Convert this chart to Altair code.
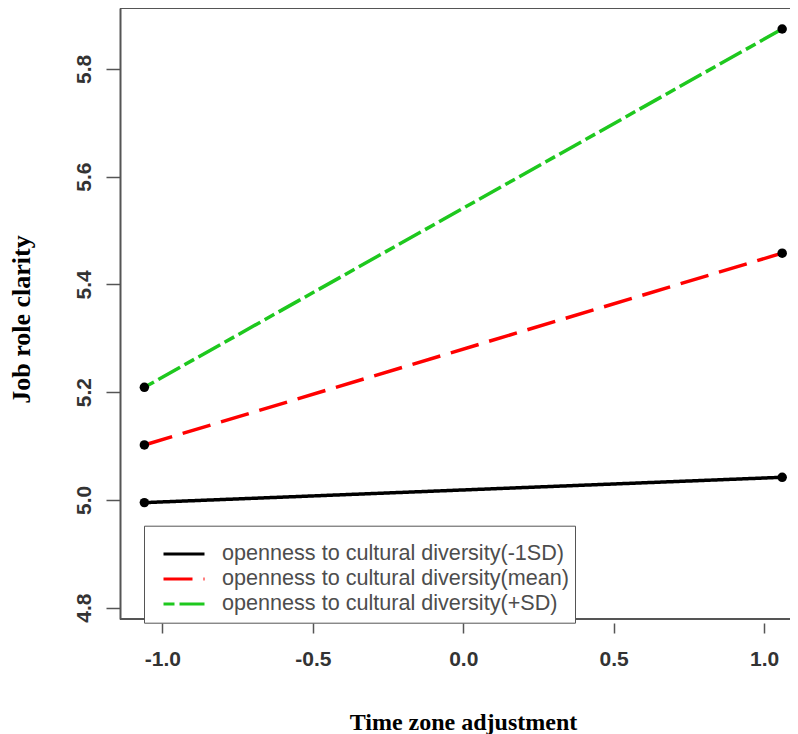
import altair as alt
import pandas as pd

series = [
    "openness to cultural diversity(-1SD)",
    "openness to cultural diversity(mean)",
    "openness to cultural diversity(+SD)",
]
x_vals = [-1.06, 1.06]
low_sd = [4.995, 5.042]
mean_vals = [5.102, 5.458]
high_sd = [5.209, 5.874]
colors = ["#000000", "#ff0000", "#1ec81e"]
dashes = [[1, 0], [29, 11], [11, 5, 25, 5]]
x_ticks = [-1.0, -0.5, 0.0, 0.5, 1.0]
y_ticks = [4.8, 5.0, 5.2, 5.4, 5.6, 5.8]
x_domain = [-1.141, 1.086]
y_domain = [4.779, 5.913]

rows = []
for s, vals in zip(series, [low_sd, mean_vals, high_sd]):
    for x, y in zip(x_vals, vals):
        rows.append({"series": s, "x": x, "y": y})
df = pd.DataFrame(rows)
border_df = pd.DataFrame({"y": y_domain})

xs = alt.Scale(domain=x_domain, nice=False, zero=False)
ys = alt.Scale(domain=y_domain, nice=False, zero=False)

x_axis = alt.Axis(
    values=x_ticks,
    title="Time zone adjustment",
    labelExpr="datum.value < 0 ? '-' + format(-datum.value, '.1f') : format(datum.value, '.1f')",
    domain=False,
    offset=4,
    tickSize=10,
    tickColor="#555555",
    tickWidth=1.5,
    labelPadding=15,
    labelFont="Liberation Sans",
    labelFontSize=21,
    labelFontWeight="bold",
    labelColor="#333333",
    grid=False,
    titleFont="Liberation Serif",
    titleFontSize=24,
    titleFontWeight="bold",
    titleColor="#000000",
    titleX=343,
    titleY=106,
    titleAlign="center",
    titleBaseline="alphabetic",
)
y_axis = alt.Axis(
    values=y_ticks,
    format=".1f",
    title="Job role clarity",
    domain=True,
    domainColor="#555555",
    domainWidth=2,
    tickSize=14,
    tickColor="#555555",
    tickWidth=1.5,
    labelAngle=270,
    labelAlign="center",
    labelBaseline="bottom",
    labelPadding=12,
    labelFont="Liberation Sans",
    labelFontSize=21,
    labelFontWeight="bold",
    labelColor="#333333",
    grid=False,
    titleFont="Liberation Serif",
    titleFontSize=26,
    titleFontWeight="bold",
    titleColor="#000000",
    titleAngle=270,
    titleX=-98.5,
    titleY=311,
    titleAlign="center",
    titleBaseline="middle",
)

x_enc = alt.X("x:Q", scale=xs, axis=x_axis)
y_enc = alt.Y("y:Q", scale=ys, axis=y_axis)

legend = alt.Legend(
    orient="none",
    legendX=24,
    legendY=517.7,
    title=" ",
    titleFontSize=8,
    titlePadding=2,
    symbolType="stroke",
    symbolSize=1681,
    symbolStrokeWidth=3,
    symbolOffset=12,
    clipHeight=24.5,
    rowPadding=0,
    labelFont="Liberation Sans",
    labelFontSize=21.6,
    labelColor="#4d4d4d",
    labelOffset=16,
    labelLimit=600,
    padding=6,
    strokeColor="#555555",
    fillColor="#ffffff",
)

lines = alt.Chart(df).mark_line(strokeWidth=3.5, strokeCap="butt").encode(
    x=x_enc,
    y=y_enc,
    color=alt.Color("series:N", scale=alt.Scale(domain=series, range=colors), legend=legend),
    strokeDash=alt.StrokeDash("series:N", scale=alt.Scale(domain=series, range=dashes), legend=legend),
)

points = alt.Chart(df).mark_circle(size=90, color="#000000", opacity=1).encode(
    x=x_enc,
    y=y_enc,
)

borders = alt.Chart(border_df).mark_rule(color="#555555", strokeWidth=2).encode(
    y=y_enc,
)

chart = (
    alt.layer(borders, lines, points)
    .properties(
        width=670,
        height=611,
        autosize=alt.AutoSizeParams(type="none"),
        padding={"left": 112, "top": 0, "right": 0, "bottom": 115},
    )
    .configure_view(stroke=None)
)

chart.save("out.html", embed_options={"renderer": "svg", "actions": False})
